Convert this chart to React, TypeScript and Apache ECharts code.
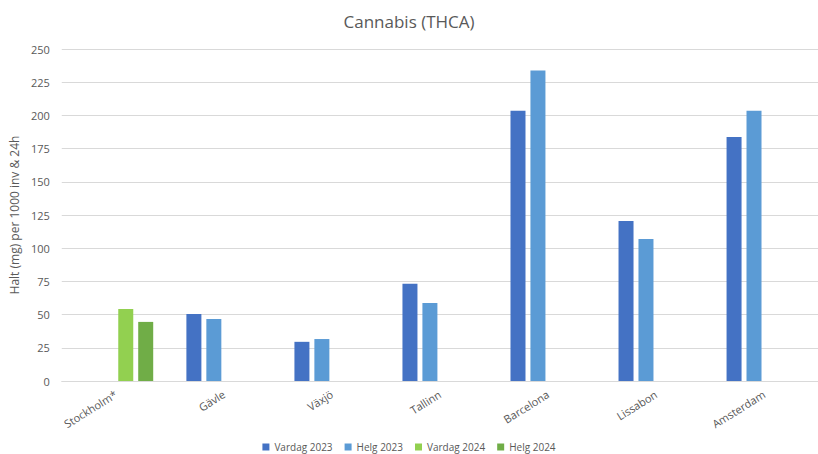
import React, { useEffect, useRef } from "react";
import * as echarts from "echarts";

const categories = ["Stockholm*", "Gävle", "Växjö", "Tallinn", "Barcelona", "Lissabon", "Amsterdam"];
const vardag2023 = [null, 50.5, 29.5, 73.3, 203.5, 120.5, 183.7];
const helg2023 = [null, 46.7, 31.6, 58.7, 233.9, 107, 203.5];
const vardag2024 = [54.2, null, null, null, null, null, null];
const helg2024 = [44.5, null, null, null, null, null, null];
const seriesNames = ["Vardag 2023", "Helg 2023", "Vardag 2024", "Helg 2024"];
const colors = ["#4472C4", "#5B9BD5", "#92D050", "#70AD47"];
const yTicks = { min: 0, max: 250, interval: 25 };

const FONT = "'Open Sans', 'Noto Sans', sans-serif";

export default function App() {
  const ref = useRef<HTMLDivElement>(null);
  useEffect(() => {
    if (!ref.current) return;
    const chart = echarts.init(ref.current, undefined, { renderer: "svg" });
    const data = [vardag2023, helg2023, vardag2024, helg2024];
    chart.setOption({
      animation: false,
      backgroundColor: "#ffffff",
      title: {
        text: "Cannabis (THCA)",
        left: "center",
        top: 8,
        textStyle: { fontFamily: FONT, fontSize: 17, fontWeight: "normal", color: "#595959" },
      },
      legend: {
        bottom: -3,
        left: "center",
        itemWidth: 7,
        itemHeight: 7,
        itemGap: 12,
        icon: "rect",
        textStyle: { fontFamily: FONT, fontSize: 10, color: "#595959" },
        data: seriesNames,
      },
      grid: { left: 60, right: -4, top: 49, bottom: 73 },
      xAxis: {
        type: "category",
        data: categories,
        axisLine: { lineStyle: { color: "#D9D9D9" } },
        axisTick: { show: false },
        axisLabel: {
          rotate: 32,
          margin: 12,
          interval: 0,
          fontFamily: FONT,
          fontSize: 11,
          color: "#595959",
        },
      },
      yAxis: {
        type: "value",
        min: yTicks.min,
        max: yTicks.max,
        interval: yTicks.interval,
        name: "Halt (mg) per 1000 inv & 24h",
        nameLocation: "middle",
        nameGap: 41,
        nameTextStyle: { fontFamily: FONT, fontSize: 12, color: "#595959" },
        axisLine: { show: false },
        axisTick: { show: false },
        axisLabel: { fontFamily: FONT, fontSize: 11, color: "#595959", margin: 12 },
        splitLine: { lineStyle: { color: "#D9D9D9" } },
      },
      series: seriesNames.map((name, i) => ({
        name,
        type: "bar",
        data: data[i],
        barWidth: 15,
        barGap: "33%",
        barCategoryGap: "31%",
        itemStyle: { color: colors[i] },
      })),
    });
    return () => chart.dispose();
  }, []);
  return (
    <div
      ref={ref}
      style={{ position: "fixed", left: 0, top: 0, width: 818, height: 454 }}
    />
  );
}
